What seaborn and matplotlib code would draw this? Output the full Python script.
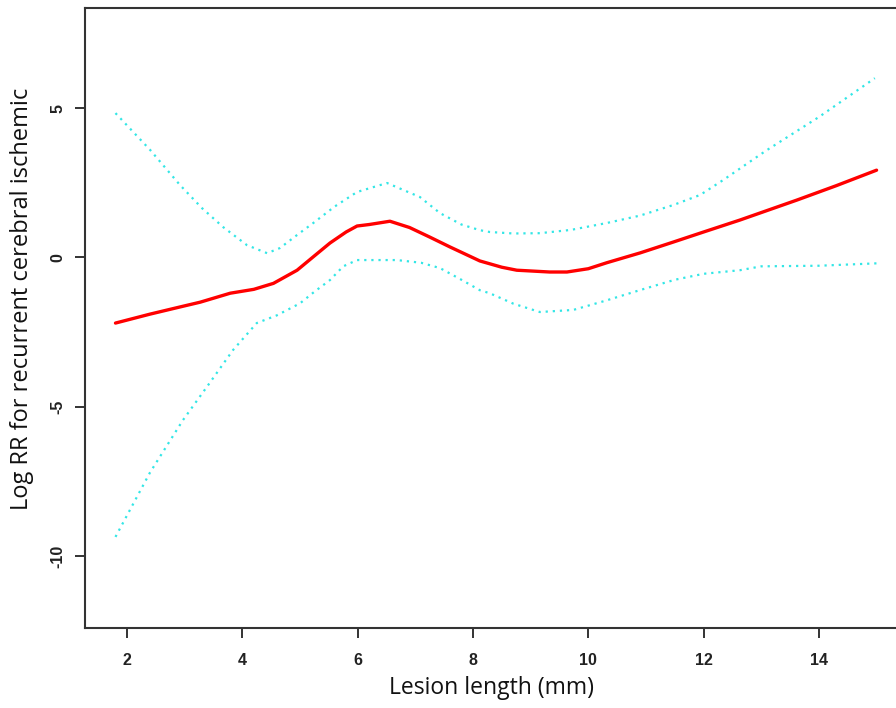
"""Restricted cubic spline plot: log RR vs lesion length."""

import matplotlib

matplotlib.use("Agg")

import matplotlib.pyplot as plt
import pandas as pd
import seaborn as sns

# Fitted curve (log RR)
est_x = [1.8, 2.4, 2.92, 3.27, 3.79, 4.2, 4.54, 4.95, 5.25, 5.52, 5.8, 5.99, 6.2, 6.56, 6.9,
         7.25, 7.6, 8.12, 8.5, 8.76, 9.33, 9.63, 10.0, 10.32, 10.9, 11.47, 12.0, 12.63,
         13.62, 14.3, 15.0]
est_y = [-2.2, -1.9, -1.66, -1.5, -1.2, -1.07, -0.87, -0.43, 0.05, 0.48, 0.85, 1.05, 1.1,
         1.21, 1.0, 0.68, 0.35, -0.12, -0.33, -0.43, -0.49, -0.49, -0.38, -0.18, 0.15, 0.51,
         0.85, 1.25, 1.92, 2.4, 2.92]

# Upper 95% CI
upper_x = [1.8, 2.4, 2.92, 3.3, 3.67, 4.08, 4.43, 4.65, 4.95, 5.23, 5.6, 5.99, 6.51, 7.08,
           7.43, 7.8, 8.12, 8.29, 8.7, 9.16, 9.7, 10.32, 10.9, 11.47, 11.94, 12.34, 13.08,
           14.0, 14.97]
upper_y = [4.83, 3.6, 2.42, 1.65, 1.01, 0.41, 0.14, 0.31, 0.75, 1.15, 1.7, 2.19, 2.49, 2.02,
           1.48, 1.1, 0.91, 0.85, 0.8, 0.81, 0.92, 1.15, 1.4, 1.75, 2.09, 2.59, 3.57, 4.7, 6.0]

# Lower 95% CI
lower_x = [1.8, 2.4, 2.97, 3.38, 3.84, 4.25, 4.6, 5.0, 5.25, 5.52, 5.75, 5.99, 6.68, 7.1,
           7.43, 7.8, 8.12, 8.29, 8.7, 9.16, 9.74, 10.3, 10.89, 11.5, 12.0, 12.63, 13.0, 14.0,
           15.0]
lower_y = [-9.36, -7.2, -5.45, -4.35, -3.1, -2.2, -1.94, -1.54, -1.15, -0.76, -0.3, -0.09,
           -0.09, -0.18, -0.36, -0.75, -1.1, -1.2, -1.55, -1.83, -1.76, -1.45, -1.1, -0.75,
           -0.55, -0.43, -0.3, -0.28, -0.2]

x_ticks = [2, 4, 6, 8, 10, 12, 14]
y_ticks = [-10, -5, 0, 5]

sns.set_style("ticks")
plt.rcParams["font.family"] = ["Liberation Sans", "DejaVu Sans"]

fig = plt.figure(figsize=(8.96, 7.08), dpi=100)
ax = fig.add_axes([0.0949, 0.113, 0.9174, 0.8757])

est = pd.DataFrame({"x": est_x, "y": est_y})
upper = pd.DataFrame({"x": upper_x, "y": upper_y})
lower = pd.DataFrame({"x": lower_x, "y": lower_y})

ci_color = "#33e6e6"
for band in (upper, lower):
    sns.lineplot(data=band, x="x", y="y", ax=ax, color=ci_color, linewidth=1.6,
                 linestyle=(0, (1, 2.2)), estimator=None, sort=False)
sns.lineplot(data=est, x="x", y="y", ax=ax, color="#ff0000", linewidth=2.4,
             estimator=None, sort=False)

ax.set_xlim(1.272, 15.528)
ax.set_ylim(-12.41, 8.35)
ax.set_xticks(x_ticks)
ax.set_yticks(y_ticks)
ax.set_xticklabels([str(t) for t in x_ticks], fontsize=11.5, fontweight="bold", color="#222222")
ax.set_yticklabels([str(t) for t in y_ticks], fontsize=11.5, fontweight="bold", color="#222222",
                   rotation=90, va="center")
ax.tick_params(axis="both", length=7, width=1.4, color="#333333")
ax.tick_params(axis="x", pad=11)
ax.tick_params(axis="y", pad=7)

for side in ax.spines.values():
    side.set_linewidth(1.5)
    side.set_color("#333333")

label_font = ["Open Sans", "DejaVu Sans"]
ax.set_xlabel("Lesion length (mm)", fontsize=16.5, family=label_font, color="#111111")
ax.set_ylabel("Log RR for recurrent cerebral ischemic", fontsize=17, family=label_font,
              color="#111111")
ax.xaxis.set_label_coords(0.494, -0.077)
ax.yaxis.set_label_coords(-0.062, 0.531)

fig.savefig("out.png", dpi=100)
